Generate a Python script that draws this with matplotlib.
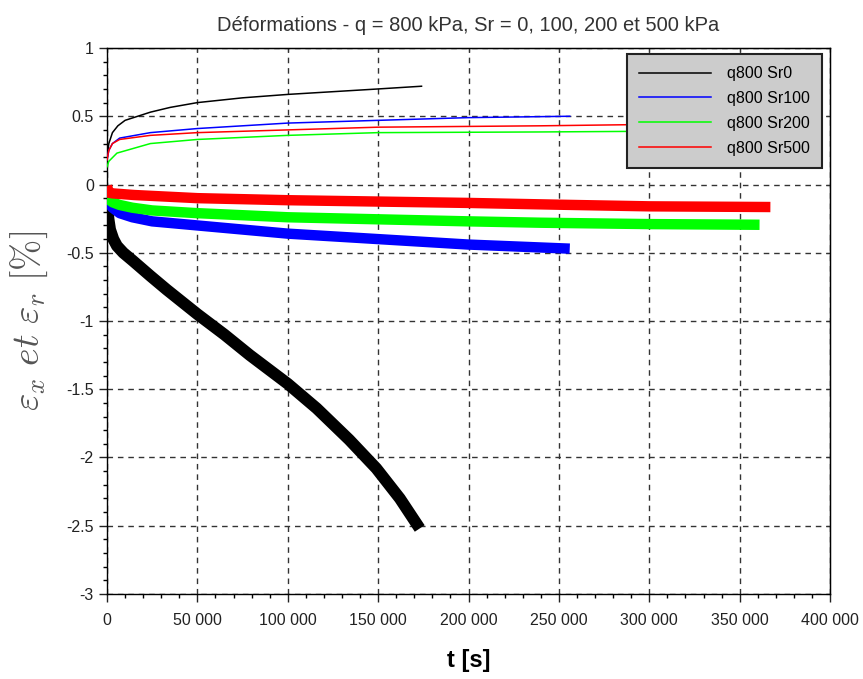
import numpy as np
import matplotlib
matplotlib.use("Agg")
from matplotlib import pyplot as plt
from matplotlib.ticker import MultipleLocator, FuncFormatter

# upper branches (thin lines)
t_sr0_up = [0, 1000, 3000, 6000, 10000, 24000, 35000, 50000, 75000, 100000, 150000, 174000]
e_sr0_up = [0.20, 0.30, 0.38, 0.43, 0.47, 0.53, 0.565, 0.60, 0.635, 0.66, 0.70, 0.72]
t_sr100_up = [0, 1000, 3000, 7000, 24000, 50000, 100000, 150000, 200000, 256000]
e_sr100_up = [0.18, 0.25, 0.30, 0.34, 0.38, 0.41, 0.45, 0.47, 0.49, 0.50]
t_sr200_up = [0, 1000, 5500, 24000, 50000, 100000, 150000, 240000, 300000, 361000]
e_sr200_up = [0.13, 0.17, 0.23, 0.30, 0.33, 0.36, 0.38, 0.385, 0.39, 0.40]
t_sr500_up = [0, 1000, 3000, 7000, 24000, 50000, 100000, 150000, 240000, 300000, 367000]
e_sr500_up = [0.18, 0.25, 0.30, 0.33, 0.36, 0.38, 0.40, 0.42, 0.43, 0.44, 0.45]

# lower branches (thick bands)
t_sr0_lo = [0, 800, 1700, 3500, 5500, 9000, 14400, 24000, 33000, 50000, 65000, 79000,
            100000, 116000, 134000, 149000, 162000, 173000]
e_sr0_lo = [-0.12, -0.25, -0.33, -0.40, -0.45, -0.50, -0.56, -0.67, -0.77, -0.95, -1.10, -1.25,
            -1.46, -1.64, -1.87, -2.08, -2.30, -2.52]
t_sr100_lo = [0, 3000, 7000, 14000, 25000, 50000, 100000, 150000, 200000, 256000]
e_sr100_lo = [-0.12, -0.17, -0.21, -0.24, -0.27, -0.30, -0.36, -0.40, -0.44, -0.47]
t_sr200_lo = [0, 3000, 7000, 14000, 25000, 50000, 100000, 150000, 200000, 240000, 300000, 361000]
e_sr200_lo = [-0.10, -0.13, -0.15, -0.17, -0.19, -0.21, -0.24, -0.255, -0.27, -0.28, -0.29, -0.295]
t_sr500_lo = [0, 1000, 3000, 15000, 50000, 100000, 150000, 200000, 250000, 300000, 367000]
e_sr500_lo = [-0.01, -0.06, -0.065, -0.077, -0.10, -0.115, -0.125, -0.135, -0.148, -0.16, -0.165]

labels = ["q800 Sr0", "q800 Sr100", "q800 Sr200", "q800 Sr500"]
colors = ["#000000", "#0000ff", "#00ff00", "#ff0000"]

plt.rcParams['font.family'] = ['Liberation Sans', 'DejaVu Sans']
plt.rcParams['axes.unicode_minus'] = False
plt.rcParams['mathtext.fontset'] = 'cm'

fig = plt.figure(figsize=(8.63, 6.79), dpi=100)
ax = fig.add_axes([0.124, 0.1252, 0.8378, 0.8041])

ups = [(t_sr0_up, e_sr0_up), (t_sr100_up, e_sr100_up),
       (t_sr200_up, e_sr200_up), (t_sr500_up, e_sr500_up)]
lows = [(t_sr0_lo, e_sr0_lo), (t_sr100_lo, e_sr100_lo),
        (t_sr200_lo, e_sr200_lo), (t_sr500_lo, e_sr500_lo)]

handles = []
for (t, e), c, lab in zip(ups, colors, labels):
    h, = ax.plot(t, e, color=c, lw=1.1, label=lab, zorder=3)
    handles.append(h)
for (t, e), c in zip(lows, colors):
    lw = 8.5 if c == "#000000" else 7.5
    ax.plot(t, e, color=c, lw=lw, solid_capstyle='butt', solid_joinstyle='round', zorder=3)

ax.set_xlim(0, 400000)
ax.set_ylim(-3, 1)
ax.xaxis.set_major_locator(MultipleLocator(50000))
ax.xaxis.set_minor_locator(MultipleLocator(10000))
ax.yaxis.set_major_locator(MultipleLocator(0.5))
ax.yaxis.set_minor_locator(MultipleLocator(0.1))
ax.xaxis.set_major_formatter(FuncFormatter(lambda v, p: f"{int(v):,}".replace(",", " ")))
ax.yaxis.set_major_formatter(FuncFormatter(lambda v, p: f"{v:g}"))

ax.grid(True, which='major', color='#333333', linestyle=(0, (4, 3.5)), lw=1.0)
ax.tick_params(which='major', direction='out', length=6, width=1, labelsize=11.5,
               colors='#222222')
ax.tick_params(which='minor', direction='out', length=3, width=1)
ax.tick_params(axis='x', which='major', pad=8)
for sp in ax.spines.values():
    sp.set_linewidth(1.0)

sec_x = ax.secondary_xaxis('top')
sec_x.xaxis.set_major_locator(MultipleLocator(50000))
sec_x.tick_params(direction='in', length=3, labeltop=False)
sec_y = ax.secondary_yaxis('right')
sec_y.yaxis.set_major_locator(MultipleLocator(0.5))
sec_y.tick_params(direction='in', length=3, labelright=False)

ax.set_title("Déformations - q = 800 kPa, Sr = 0, 100, 200 et 500 kPa",
             fontsize=14.5, color='#333333', pad=12)
ax.set_xlabel("t [s]", fontsize=17, fontweight='bold',
              family=['Liberation Sans Narrow', 'Liberation Sans'], labelpad=15)
ax.set_ylabel(r"$\varepsilon_x\ et\ \varepsilon_r\ [\%]$", fontsize=27,
              color='#555555', labelpad=12)

leg = ax.legend(handles=handles, loc='upper right', bbox_to_anchor=(0.989, 0.989),
                borderaxespad=0, fontsize=11.5, fancybox=False, framealpha=1,
                facecolor='#cccccc', edgecolor='#222222', handlelength=4.5,
                handletextpad=1.0, labelspacing=0.62, borderpad=0.76)
leg.get_frame().set_linewidth(1.5)
leg.set_zorder(5)

fig.savefig("out.png", dpi=100)
